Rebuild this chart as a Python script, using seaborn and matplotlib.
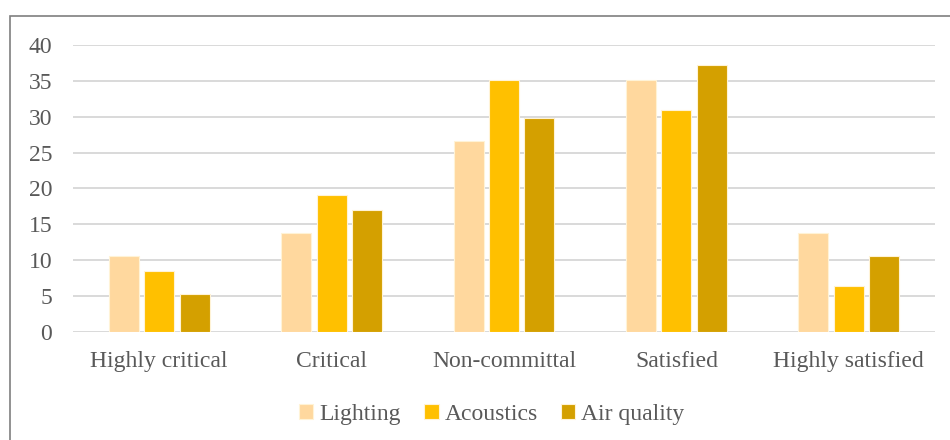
import pandas as pd
import seaborn as sns
import matplotlib.pyplot as plt
from matplotlib.patches import Rectangle

# Values (percent of responses)
categories = ['Highly critical', 'Critical', 'Non-committal', 'Satisfied', 'Highly satisfied']
lighting = [10.6, 13.8, 26.6, 35.1, 13.8]
acoustics = [8.5, 19.1, 35.1, 30.9, 6.4]
air_quality = [5.3, 17.0, 29.8, 37.2, 10.6]
series_names = ['Lighting', 'Acoustics', 'Air quality']
colors = ['#FFD89E', '#FFC000', '#D4A000']

df = pd.DataFrame({
    'Category': categories * 3,
    'Aspect': [s for s in series_names for _ in categories],
    'Value': lighting + acoustics + air_quality,
})

sns.set_style('white')
plt.rcParams['font.family'] = ['Liberation Serif', 'DejaVu Serif']
text_color = '#595959'
fsize = 17

fig = plt.figure(figsize=(9.5, 4.4), dpi=100)
ax = fig.add_axes([73 / 950, 108 / 440, 862 / 950, 287 / 440])

sns.barplot(data=df, x='Category', y='Value', hue='Aspect', palette=colors,
            saturation=1, width=0.615, gap=0.15, edgecolor='#FFF3D6',
            linewidth=0.8, ax=ax, zorder=3)

ax.set_ylim(0, 40)
ax.set_yticks(range(0, 41, 5))
ax.grid(axis='y', color='#D9D9D9', linewidth=1.4, zorder=0)
ax.set_axisbelow(True)
for side in ax.spines:
    ax.spines[side].set_visible(False)
ax.set_xlabel('')
ax.set_ylabel('')
ax.tick_params(axis='both', length=0, labelsize=fsize, colors=text_color)
ax.tick_params(axis='x', pad=14)
ax.tick_params(axis='y', pad=15)

ax.legend(loc='center', bbox_to_anchor=(0.486, -0.287), ncol=3, frameon=False,
          fontsize=fsize, handlelength=0.6, handleheight=0.6, handletextpad=0.25,
          columnspacing=1.0, labelcolor=text_color)

# outer chart-area border (only top and left visible in the crop)
fig.patches.append(Rectangle((10 / 950, -0.1), 1.2, (424 / 440) + 0.1,
                             transform=fig.transFigure, fill=False,
                             edgecolor='#7F7F7F', linewidth=1.2, clip_on=False))

fig.savefig('out.png', dpi=100)
